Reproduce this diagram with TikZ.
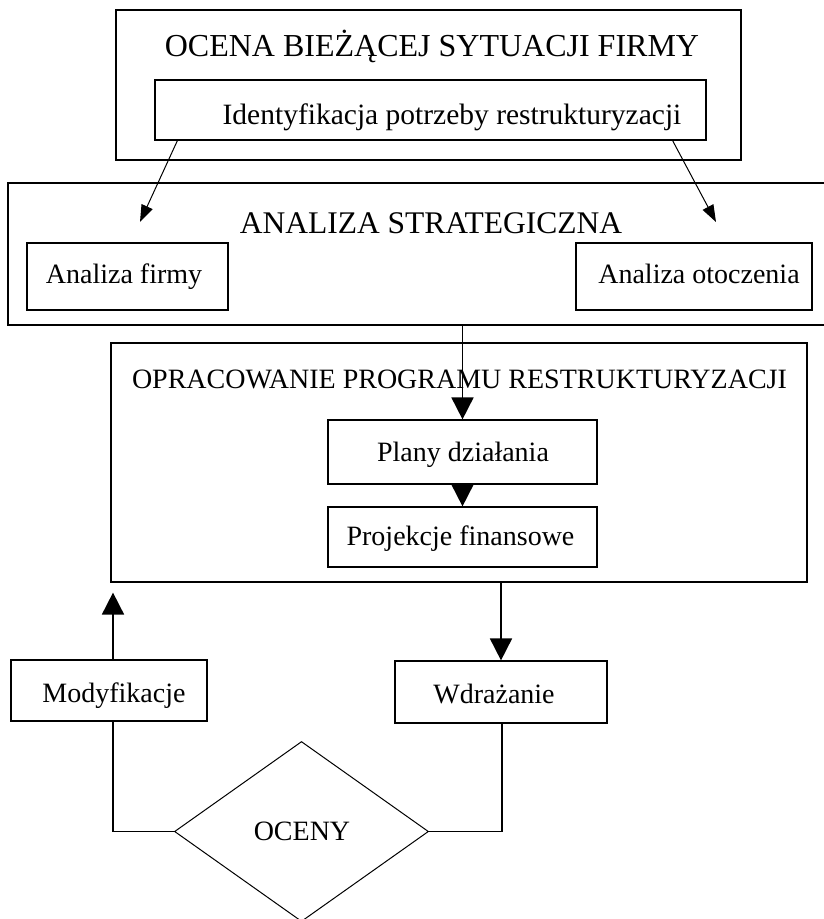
\documentclass[tikz,border=0pt]{standalone}
\usepackage{fontspec}
\setmainfont{Liberation Serif}
\usetikzlibrary{arrows.meta,shapes.geometric,calc}
\begin{document}
\begin{tikzpicture}[x=1pt,y=-1pt,
  frame/.style={draw, line width=1.2pt, inner sep=0pt},
  lbl/.style={inner sep=0pt, anchor=base},
  body/.style={font=\fontsize{28}{30}\selectfont},
  conn/.style={line width=1.8pt},
  bigtip/.style={-{Triangle[length=22pt,width=22pt]}},
  smalltip/.style={-{Triangle[length=17pt,width=12pt]}}
]
\useasboundingbox (0,0) rectangle (823,919);

% assessment of the current situation
\node[frame, minimum width=625pt, minimum height=150pt] (ocena) at (428.5,85) {};
\node[lbl, font=\fontsize{32}{34}\selectfont] (ocenaT) at (432,56) {OCENA BIEŻĄCEJ SYTUACJI FIRMY};
\node[frame, minimum width=551pt, minimum height=60pt] (ident) at (430.5,110) {};
\node[lbl, font=\fontsize{29.5}{31}\selectfont] (identT) at (452,124) {Identyfikacja potrzeby restrukturyzacji};

% strategic analysis
\node[frame, line width=1.6pt, minimum width=832pt, minimum height=142pt] (anal) at (424,254) {};
\node[lbl, font=\fontsize{31.5}{33}\selectfont] (analT) at (431,233) {ANALIZA STRATEGICZNA};
\node[frame, minimum width=201pt, minimum height=67pt] (firma) at (127.5,276.5) {};
\node[lbl, body] (firmaT) at (124,283) {Analiza firmy};
\node[frame, minimum width=236pt, minimum height=67pt] (otocz) at (694,276.5) {};
\node[lbl, body] (otoczT) at (699,283) {Analiza otoczenia};

% restructuring programme
\node[frame, minimum width=696pt, minimum height=239pt] (oprac) at (459,462.5) {};
\node[lbl, font=\fontsize{28}{30}\selectfont] (opracT) at (459.5,388) {OPRACOWANIE PROGRAMU RESTRUKTURYZACJI};
\node[frame, minimum width=269pt, minimum height=64pt] (plany) at (462.5,452) {};
\node[lbl, body] (planyT) at (463,461) {Plany działania};
\node[frame, minimum width=269pt, minimum height=60pt] (proj) at (462.5,537) {};
\node[lbl, body] (projT) at (460.5,545) {Projekcje finansowe};

% implementation loop
\node[frame, minimum width=196pt, minimum height=61pt] (mod) at (109,690.5) {};
\node[lbl, body] (modT) at (114,702) {Modyfikacje};
\node[frame, minimum width=212pt, minimum height=62pt] (wdr) at (501,692) {};
\node[lbl, body] (wdrT) at (494,703) {Wdrażanie};
\node[draw, line width=1pt, diamond, inner sep=0pt, minimum width=254pt, minimum height=180pt] (oc) at (301.5,831.5) {};
\node[lbl, body] (ocT) at (302,840) {OCENY};

% connectors
\draw[line width=1pt, smalltip] ($(ident.south west)+(23,0)$) -- (140,222);
\draw[line width=1pt, smalltip] ($(ident.south east)+(-34,0)$) -- (716,222);
\draw[conn, bigtip] (anal.south -| plany.north) -- (plany.north);
\draw[conn, bigtip] (plany.south) -- (proj.north);
\draw[conn, bigtip] (oprac.south -| wdr.north) -- (wdr.north);
\draw[conn, bigtip, shorten >=10pt] ([xshift=4pt]mod.north) -- ([xshift=4pt]mod.north |- oprac.south);
\draw[conn] ([xshift=4pt]mod.south) |- (oc.west);
\draw[conn] ([xshift=1pt]wdr.south) |- (oc.east);
\end{tikzpicture}
\end{document}
